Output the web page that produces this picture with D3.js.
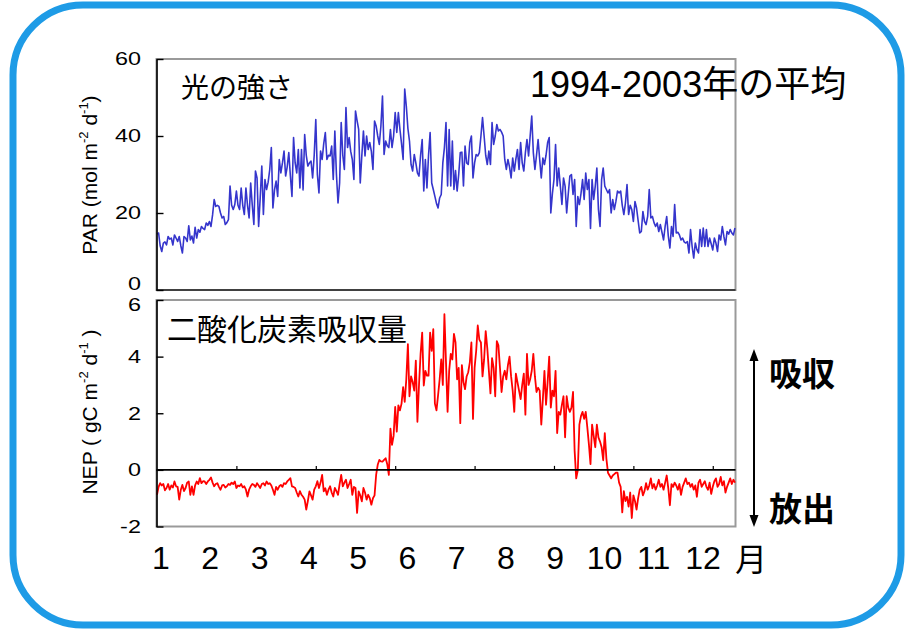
<!DOCTYPE html>
<html>
<head>
<meta charset="utf-8">
<script src="https://cdn.jsdelivr.net/npm/d3@7/dist/d3.min.js"></script>
<style>
  html, body { margin: 0; padding: 0; background: #fff; }
  svg { display: block; }
</style>
</head>
<body>
<svg id="chart" width="906" height="632"></svg>
<script>
// Month labels along the bottom
const monthLabels = ["1", "2", "3", "4", "5", "6", "7", "8", "9", "10", "11", "12"];
const monthUnit = "月";

// Axis ticks
const parTicks = [0, 20, 40, 60];
const nepTicks = [-2, 0, 2, 4, 6];
const dayTicks = [50, 100, 150, 200, 250, 300, 350];

// Daily PAR (mol m-2 d-1), day-of-year 0..364, 1994-2003 mean
const par = [
  14.5, 14.8, 11.5, 10, 12.2, 12.5, 11.7, 13.9, 13.2, 13.5,
  11.7, 14.3, 13.5, 12.6, 13.9, 11.5, 9.6, 13.9, 13.5, 12.6,
  16.7, 13, 14, 12.2, 16.3, 13.5, 15.7, 15, 16.5, 16,
  15.7, 17.4, 16.8, 17.8, 16.5, 19.5, 23.5, 21.7, 22, 21.7,
  20, 18.7, 19.1, 17, 17.5, 18.3, 27, 22, 20.9, 22.2,
  25.7, 22, 20.9, 26.5, 22, 19.6, 26.5, 22, 18.7, 27.8,
  22, 17, 30.9, 29.1, 16.5, 24, 32.2, 19.6, 28.7, 26.1,
  28, 31.3, 37, 21.3, 26, 28.3, 24.3, 33.9, 30.4, 33,
  36.1, 29.6, 32, 35.7, 29.6, 24.3, 39.6, 33, 30.4, 36.5,
  26.5, 36.5, 26, 40.4, 35, 32.2, 33, 33.5, 29.1, 35,
  44.3, 30, 25.2, 36.1, 33.9, 38, 40.9, 33.9, 35, 34.8,
  37.4, 28.7, 41.3, 30, 22.6, 27.8, 43.5, 35, 31.3, 47.4,
  37, 39.6, 36, 33.9, 28.7, 46.5, 44, 41.7, 27.8, 35,
  41.3, 34.8, 40, 36.5, 38.3, 36, 31.3, 43.9, 42.6, 40,
  37.8, 42.6, 50.4, 35.2, 38.7, 37.5, 37, 41.7, 37, 40,
  46.1, 40.9, 46.1, 41.7, 38, 33.9, 52.2, 47.8, 42, 38.7,
  32.6, 30.9, 35.2, 33, 30.4, 29.6, 35, 39.1, 25.7, 33.9,
  26.5, 35, 40.9, 27.8, 26.1, 24.3, 22.5, 21.3, 23.9, 24.8,
  33, 37, 43.5, 27, 41.7, 27, 38.7, 26.1, 31, 25.7,
  30, 35.7, 35.8, 27, 37.4, 33, 32.6, 38.3, 40, 29.1,
  33, 35.2, 34.8, 35.7, 40, 44.8, 40, 35, 32.6, 36.1,
  32.6, 43.5, 37.8, 40, 43, 41.3, 41.7, 41, 40, 33.9,
  31.3, 33.9, 32, 29.1, 34.3, 30.9, 34, 36.5, 31.3, 38.3,
  33, 30.9, 35.7, 39.1, 34.8, 40, 45.2, 35.7, 31.3, 35,
  39.1, 33.9, 29.1, 34.3, 32.6, 35, 38.3, 39.6, 20, 25,
  28.7, 37.8, 27, 31.7, 27, 22.2, 29.1, 27, 20, 25,
  29.6, 30, 24.8, 28.7, 16.5, 24.3, 22.2, 25, 28.7, 23.5,
  30.4, 26.1, 28.7, 16, 28.7, 23.5, 27, 31.7, 20.9, 16.5,
  28.7, 31.7, 27, 26.1, 25.2, 26.1, 20, 23.5, 20.9, 23,
  25.7, 25.2, 25.7, 22, 19.6, 22.6, 27.4, 19.6, 22, 20.9,
  17.8, 23, 21.3, 18, 14.8, 15.2, 20.4, 17.8, 17, 19.1,
  26.1, 18.7, 19.1, 17.5, 16.5, 17.4, 15.2, 17, 15, 13,
  16.5, 19.1, 14, 10.9, 16.5, 13.9, 22.2, 14.8, 15, 14.3,
  13, 13.5, 12.5, 12.2, 12.6, 9.6, 15.7, 11.3, 8.3, 12.2,
  10.5, 9.6, 15.7, 11.3, 16.1, 11.3, 15.7, 11.3, 13.5, 12,
  10.4, 13.5, 12.2, 10, 14.3, 13, 16.5, 13.9, 11.7, 15.2,
  14.5, 15.7, 14.8, 14.3, 16.1
];

// Daily NEP (gC m-2 d-1), day-of-year 0..364; positive = uptake
const nep = [
  -0.88, -0.6, -0.47, -0.55, -0.5, -0.72, -0.64, -0.5, -0.7, -0.55,
  -0.62, -0.41, -0.58, -0.6, -1.05, -0.7, -0.53, -0.75, -0.64, -0.45,
  -0.41, -0.88, -0.58, -0.88, -0.55, -0.41, -0.5, -0.29, -0.47, -0.4,
  -0.41, -0.5, -0.41, -0.35, -0.27, -0.45, -0.58, -0.5, -0.47, -0.6,
  -0.7, -0.55, -0.53, -0.62, -0.58, -0.5, -0.53, -0.45, -0.5, -0.41,
  -0.64, -0.55, -0.58, -0.5, -0.62, -0.58, -0.7, -0.94, -0.7, -0.58,
  -0.5, -0.53, -0.6, -0.47, -0.55, -0.64, -0.5, -0.47, -0.55, -0.41,
  -0.5, -0.47, -0.55, -0.7, -0.88, -0.6, -0.7, -0.58, -0.53, -0.6,
  -0.47, -0.5, -0.41, -0.35, -0.29, -0.58, -0.6, -0.64, -0.8, -0.94,
  -0.75, -0.88, -0.95, -1.05, -1.4, -1.1, -0.76, -0.9, -1.05, -0.7,
  -0.58, -0.4, -0.64, -0.45, -0.18, -0.76, -0.65, -0.88, -0.7, -0.58,
  -0.8, -0.94, -0.64, -0.75, -0.88, -0.5, -0.18, -0.58, -0.45, -0.35,
  -0.64, -0.5, -0.35, -0.88, -0.6, -0.64, -1.52, -0.76, -0.9, -1.11,
  -0.64, -0.8, -1.05, -0.88, -1.0, -1.23, -1.0, -0.9, -0.18, 0.18,
  0.35, 0.3, 0.29, 0.35, 0.41, 0.2, -0.18, 1.46, 0.88, 1.2,
  2.22, 1.35, 2.28, 2.1, 2.34, 2.92, 2.4, 3.2, 4.44, 2.6,
  3.3, 3.1, 2.8, 3.86, 1.7, 3.0, 4.1, 4.85, 2.98, 3.5,
  3.33, 3.33, 4.85, 4.2, 4.97, 2.34, 2.1, 2.63, 3.2, 3.9,
  3.0, 5.5, 3.8, 2.05, 3.5, 4.1, 3.9, 4.8, 4.5, 3.2,
  3.6, 1.65, 3.7, 3.1, 2.85, 3.3, 3.45, 3.8, 4.5, 1.8,
  3.6, 4.2, 5.1, 4.6, 4.5, 3.3, 3.9, 4.9, 4.3, 3.5,
  2.7, 3.95, 3.6, 2.6, 4.55, 4.4, 3.6, 2.75, 3.3, 3.5,
  3.2, 3.7, 4.0, 3.3, 2.8, 2.05, 3.4, 3.1, 2.8, 2.5,
  3.0, 3.4, 1.95, 4.1, 3.0, 3.2, 3.5, 4.1, 3.3, 2.75,
  2.9, 2.8, 1.6, 2.5, 3.5, 2.3, 3.1, 4.0, 2.2, 2.8,
  2.6, 3.5, 1.3, 2.05, 1.95, 2.3, 2.6, 1.15, 2.6, 2.2,
  2.05, 2.2, 2.75, 0.68, -0.3, -0.02, 1.6, 1.9, 2.05, 1.8,
  2.05, 1.5, 0.9, 0.2, 1.6, 1.2, 0.8, 1.6, 1.15, 1.0,
  0.8, 0.34, 1.3, 0.4, -0.1, -0.2, -0.3, -0.2, -0.15, -0.1,
  -0.1, -0.45, -0.6, -1.5, -0.75, -1.1, -0.95, -1.3, -0.8, -1.7,
  -0.9, -1.1, -1.4, -1.0, -0.7, -0.6, -0.9, -0.75, -0.47, -0.7,
  -0.55, -0.3, -0.65, -0.5, -0.7, -0.55, -0.35, -0.6, -0.5, -0.7,
  -0.45, -0.2, -0.65, -1.25, -0.5, -0.6, -0.45, -0.55, -0.7, -0.5,
  -0.88, -0.6, -0.45, -0.3, -0.5, -0.45, -0.6, -0.5, -0.7, -0.55,
  -0.95, -0.45, -0.35, -0.6, -0.5, -0.4, -0.6, -0.7, -0.45, -0.85,
  -0.6, -0.4, -0.3, -0.6, -0.5, -0.25, -0.55, -0.4, -0.8, -0.6,
  -0.45, -0.3, -0.5, -0.35, -0.45
];

const LATIN = "'Liberation Sans', Arial, sans-serif";
const CJK = "'Liberation Sans', 'Noto Sans CJK JP', sans-serif";

const svg = d3.select("#chart");
svg.append("rect").attr("width", 906).attr("height", 632).attr("fill", "#fff");

// Rounded blue outer frame
svg.append("rect")
  .attr("x", 13).attr("y", 5).attr("width", 888).attr("height", 620)
  .attr("rx", 70).attr("ry", 70)
  .attr("fill", "none").attr("stroke", "#1e9be6").attr("stroke-width", 7);

// Scales
const left = 156.5, right = 735.5;
const x = d3.scaleLinear().domain([0, 364]).range([left + 0.5, right - 0.5]);
const yPar = d3.scaleLinear().domain([0, 60]).range([290, 59]);
const yNep = d3.scaleLinear().domain([-2, 6]).range([526.5, 300]);
const xMonth = d3.scalePoint().domain(monthLabels).range([161, 703]);

// Panel frames
function frame(y0, y1) {
  svg.append("rect")
    .attr("x", left).attr("y", y0).attr("width", right - left).attr("height", y1 - y0)
    .attr("fill", "none").attr("stroke", "#9a9a9a").attr("stroke-width", 2);
}
frame(yPar(60), yPar(0));
frame(yNep(6), yNep(-2));

// Series lines
const parLine = d3.line().x((d, i) => x(i)).y(d => yPar(d));
const nepLine = d3.line().x((d, i) => x(i)).y(d => yNep(d));

svg.append("path").datum(par)
  .attr("d", parLine).attr("fill", "none")
  .attr("stroke", "#3535cc").attr("stroke-width", 1.6).attr("stroke-linejoin", "round");

svg.append("path").datum(nep)
  .attr("d", nepLine).attr("fill", "none")
  .attr("stroke", "#ff0000").attr("stroke-width", 1.8).attr("stroke-linejoin", "round");

// Bottom axis line of the PAR panel
svg.append("line")
  .attr("x1", left).attr("x2", right).attr("y1", yPar(0)).attr("y2", yPar(0))
  .attr("stroke", "#222").attr("stroke-width", 1.6);

// Y axes with inward ticks and horizontally stretched labels (plain hyphen minus)
function yAxis(scale, ticks, nudge) {
  const g = svg.append("g")
    .attr("transform", `translate(${left},0)`)
    .call(d3.axisLeft(scale).tickValues(ticks).tickFormat(d => String(d))
      .tickSizeInner(-7).tickSizeOuter(0).tickPadding(12));
  g.select(".domain").attr("stroke", "#000").attr("stroke-width", 1.6);
  g.selectAll(".tick line").attr("stroke", "#000").attr("stroke-width", 1.4);
  g.selectAll(".tick text")
    .attr("fill", "#000")
    .attr("font-family", LATIN).attr("font-size", 18)
    .attr("transform", d => `translate(0,${nudge(d)}) scale(1.3,1)`);
  return g;
}
// the two panels meet at 0 / 6, so those labels are pulled apart
yAxis(yPar, parTicks, d => (d === 0 ? -6 : 0));
yAxis(yNep, nepTicks, d => (d === 6 ? 5 : 0));

// Zero line of the NEP panel with upward day ticks
const zeroAxis = svg.append("g")
  .attr("transform", `translate(0,${yNep(0)})`)
  .call(d3.axisTop(x).tickValues(dayTicks).tickSizeInner(4).tickSizeOuter(0).tickFormat(""));
zeroAxis.select(".domain").attr("stroke", "#000").attr("stroke-width", 1.6)
  .attr("d", `M${left},0H${right}`);
zeroAxis.selectAll(".tick line").attr("stroke", "#000").attr("stroke-width", 1.2);

// Month labels
svg.append("g").selectAll("text").data(monthLabels).join("text")
  .attr("x", d => xMonth(d)).attr("y", 569)
  .attr("text-anchor", "middle")
  .attr("font-family", LATIN).attr("font-size", 32)
  .text(d => d);
svg.append("text")
  .attr("x", 735).attr("y", 571)
  .attr("font-family", CJK).attr("font-size", 32)
  .text(monthUnit);

// Rotated axis titles with superscripts
function yTitle(cx, cy, parts) {
  const t = svg.append("text")
    .attr("transform", `translate(${cx},${cy}) rotate(-90)`)
    .attr("text-anchor", "middle")
    .attr("font-family", LATIN).attr("font-size", 21)
    .attr("fill", "#000");
  parts.forEach(p => {
    const s = t.append("tspan").text(p.t);
    if (p.sup) s.attr("font-size", 13).attr("dy", -9);
    if (p.back) s.attr("dy", 9);
  });
}
yTitle(97, 175, [
  { t: "PAR (mol m" }, { t: "-2", sup: true }, { t: " d", back: true },
  { t: "-1", sup: true }, { t: ")", back: true }
]);
yTitle(97, 412, [
  { t: "NEP ( gC m" }, { t: "-2", sup: true }, { t: " d", back: true },
  { t: "-1", sup: true }, { t: " )", back: true }
]);

// Panel captions
svg.append("text").attr("x", 181).attr("y", 98)
  .attr("font-family", CJK).attr("font-size", 28).text("光の強さ");
svg.append("text").attr("x", 530).attr("y", 97)
  .attr("font-family", CJK).attr("font-size", 36).text("1994-2003年の平均");
svg.append("text").attr("x", 167).attr("y", 340)
  .attr("font-family", CJK).attr("font-size", 30).text("二酸化炭素吸収量");

// Uptake / release arrow
const ax = 754, aTop = 349, aBot = 527;
svg.append("line").attr("x1", ax).attr("x2", ax).attr("y1", aTop + 8).attr("y2", aBot - 8)
  .attr("stroke", "#000").attr("stroke-width", 2);
svg.append("path").attr("d", `M${ax},${aTop}L${ax - 4.5},${aTop + 12}L${ax + 4.5},${aTop + 12}Z`).attr("fill", "#000");
svg.append("path").attr("d", `M${ax},${aBot}L${ax - 4.5},${aBot - 12}L${ax + 4.5},${aBot - 12}Z`).attr("fill", "#000");

svg.append("text").attr("x", 769).attr("y", 386)
  .attr("font-family", CJK).attr("font-size", 33).attr("font-weight", 700).text("吸収");
svg.append("text").attr("x", 769).attr("y", 521)
  .attr("font-family", CJK).attr("font-size", 33).attr("font-weight", 700).text("放出");
</script>
</body>
</html>
